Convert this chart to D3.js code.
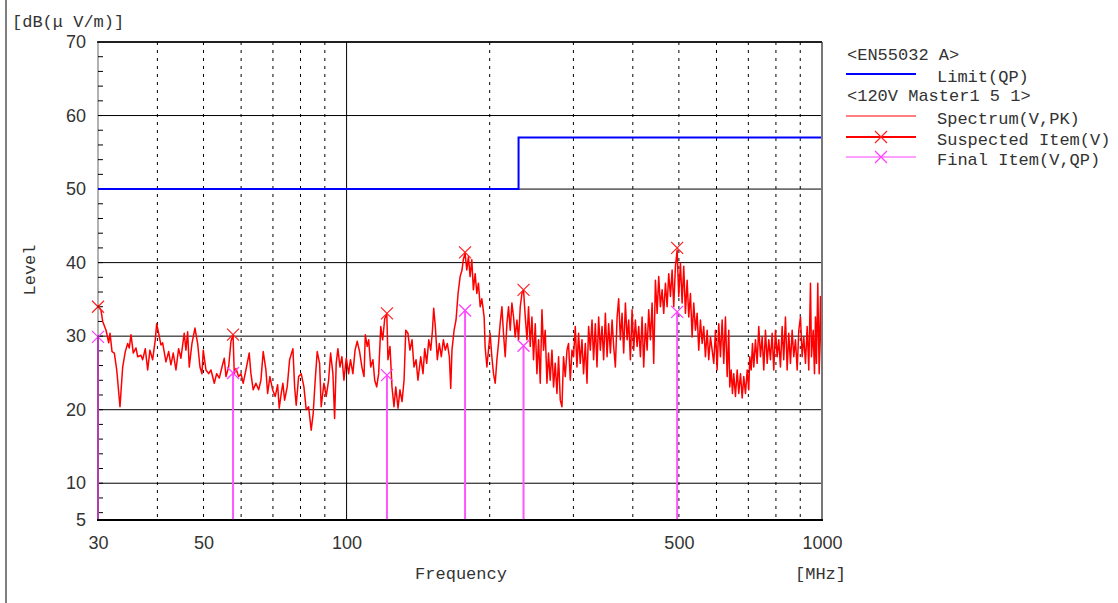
<!DOCTYPE html>
<html>
<head>
<meta charset="utf-8">
<script src="https://cdn.jsdelivr.net/npm/d3@7"></script>
<style>
body { margin: 0; background: #fff; }
svg text { fill: #333; }
.mono { font-family: "Liberation Mono", monospace; font-size: 17px; }
.num { font-family: "Liberation Sans", Arial, sans-serif; font-size: 18px; }
</style>
</head>
<body>
<svg id="chartSvg" width="1118" height="603"></svg>
<script>
// Spectrum (V, PK): frequency [MHz] and level [dBuV/m]
const specFreq = [
  30.0, 30.44, 30.69, 31.19, 31.60, 31.80, 32.11, 32.47, 32.85, 33.37, 33.81, 34.24, 34.64, 34.91, 35.20, 35.59,
  36.06, 36.36, 36.94, 37.25, 37.72, 38.16, 38.58, 39.09, 39.59, 39.86, 40.24, 40.69, 41.03, 41.69, 42.24, 42.71,
  43.19, 43.76, 44.33, 44.83, 45.55, 45.93, 46.31, 46.67, 47.29, 47.98, 48.61, 49.16, 49.64, 49.95, 50.61, 51.27,
  51.85, 52.69, 53.30, 53.98, 54.69, 55.30, 55.76, 56.48, 57.12, 57.7, 58.04, 58.52, 59.28, 59.95, 60.62, 61.41,
  62.40, 62.92, 63.62, 64.46, 65.31, 66.04, 66.78, 67.66, 68.22, 68.98, 69.89, 70.78, 71.61, 72.16, 72.86, 73.46,
  74.07, 75.01, 75.89, 77.11, 77.75, 78.35, 79.27, 80.27, 81.33, 82.24, 83.20, 84.25, 85.07, 85.90, 86.74, 87.75,
  88.43, 89.60, 90.60, 91.66, 92.55, 93.59, 94.36, 95.10, 95.89, 96.83, 97.77, 98.73, 99.83, 101.0, 101.9, 103.1,
  104.2, 105.3, 106.5, 107.7, 108.8, 109.5, 110.5, 111.3, 112.4, 113.6, 114.6, 115.7, 116.8, 118.0, 119.1, 120.3,
  121.5, 122.2, 123.4, 124.6, 125.8, 126.9, 128.3, 129.5, 130.8, 132.1, 133.2, 134.6, 135.9, 137.3, 138.6, 140.0,
  141.3, 143.2, 144.8, 146.0, 147.4, 148.9, 150.3, 151.5, 152.5, 153.7, 155.2, 156.7, 158.2, 159.8, 161.3, 162.9,
  164.5, 165.6, 166.6, 168.3, 169.9, 171.6, 173.3, 174.9, 176.0, 177.5, 179.0, 180.4, 181.9, 183.4, 184.8, 186.4,
  187.9, 189.4, 191.0, 192.5, 194.7, 195.6, 197.3, 198.8, 200.4, 202.1, 203.7, 205.4, 207.1, 208.7, 210.4, 212.2,
  213.8, 215.6, 217.4, 219.1, 220.9, 222.7, 224.5, 226.3, 228.2, 230.0, 231.9, 233.8, 235.6, 237.6, 239.6, 241.4,
  243.4, 245.4, 247.3, 249.4, 251.4, 253.4, 255.5, 257.6, 259.6, 261.7, 263.9, 265.9, 268.1, 270.4, 272.5, 274.7,
  277.0, 279.2, 281.5, 283.8, 286.0, 288.4, 290.8, 293.0, 295.5, 297.9, 300.2, 302.7, 305.2, 307.6, 310.1, 312.7,
  315.1, 317.8, 320.4, 322.9, 325.6, 328.3, 330.8, 333.6, 336.3, 339.0, 341.8, 344.6, 347.3, 350.2, 353.1, 355.8,
  358.8, 361.8, 364.6, 367.6, 370.7, 373.5, 376.6, 379.7, 382.7, 385.9, 389.1, 392.1, 395.3, 398.6, 401.7, 405.0,
  408.4, 411.6, 415.0, 418.4, 421.7, 425.2, 428.7, 432.0, 435.6, 439.2, 442.6, 446.3, 450.0, 453.5, 457.2, 461.0,
  464.6, 468.5, 472.3, 476.0, 480.0, 483.9, 487.7, 491.7, 495.8, 499.6, 503.8, 507.9, 511.9, 516.1, 520.4, 524.4,
  528.8, 533.1, 537.3, 541.8, 546.2, 550.5, 555.0, 559.6, 563.9, 568.6, 573.3, 577.8, 582.6, 587.4, 592.0, 596.9,
  601.8, 606.5, 611.5, 616.6, 621.4, 626.5, 631.7, 636.6, 639.7, 644.1, 648.1, 652.2, 657.6, 663.1, 668.2, 673.8,
  679.3, 684.6, 690.3, 696.0, 701.4, 704.8, 709.6, 714.1, 718.6, 724.5, 730.5, 736.2, 742.3, 748.4, 754.3, 760.5,
  766.8, 772.7, 779.1, 785.5, 791.6, 798.2, 804.8, 811.0, 817.7, 824.5, 830.9, 837.8, 844.7, 851.3, 858.3, 865.4,
  872.2, 879.4, 886.7, 893.6, 901.0, 908.4, 915.5, 923.1, 930.7, 938.0, 945.7, 950.3, 958.2, 964.3, 968.9, 973.6,
  979.8, 986.4, 992.7, 999.0, 1000.0
];
const specLevel = [
  34.2, 33.5, 32.0, 30.8, 29.1, 30.4, 27.9, 27.7, 25.4, 20.4, 25.8, 27.9, 29.0, 28.4, 30.2, 27.7,
  28.4, 27.2, 27.4, 26.8, 28.3, 25.4, 28.1, 26.8, 29.5, 31.7, 30.4, 28.8, 29.1, 26.5, 27.9, 26.1,
  27.7, 25.4, 28.3, 27.0, 30.4, 28.1, 30.6, 25.8, 29.0, 31.1, 29.0, 25.8, 24.9, 28.1, 25.4, 24.9,
  25.4, 23.6, 24.9, 24.3, 25.8, 27.0, 24.5, 25.8, 29.3, 30.2, 24.9, 25.6, 24.5, 24.9, 23.6, 25.4,
  27.7, 24.9, 22.7, 23.6, 22.7, 24.0, 27.9, 25.4, 22.2, 24.5, 22.7, 21.8, 23.4, 20.2, 22.2, 23.6,
  21.3, 23.1, 26.8, 28.3, 23.1, 20.6, 24.5, 24.9, 23.1, 20.0, 20.4, 17.2, 19.5, 24.0, 27.9, 26.3,
  20.4, 23.6, 21.8, 24.0, 27.7, 24.9, 18.8, 26.3, 28.3, 25.8, 27.2, 24.0, 27.0, 24.9, 26.8, 24.9,
  28.1, 29.3, 27.9, 25.8, 24.5, 30.2, 28.6, 29.5, 25.8, 26.8, 24.0, 23.1, 24.9, 31.3, 29.5, 32.4,
  33.0, 26.8, 28.6, 23.1, 20.4, 23.1, 20.2, 22.7, 21.1, 24.0, 30.8, 30.4, 28.1, 29.5, 25.8, 26.8,
  24.0, 27.2, 24.9, 28.3, 26.3, 29.5, 28.1, 30.6, 33.8, 31.3, 26.8, 29.0, 27.2, 29.5, 28.1, 29.0,
  27.2, 22.9, 28.1, 30.8, 32.2, 35.8, 38.1, 39.0, 40.4, 41.3, 39.0, 40.8, 38.1, 40.4, 36.3, 38.5,
  35.8, 37.2, 34.0, 35.1, 32.6, 28.6, 25.8, 28.1, 30.4, 27.2, 24.9, 23.6, 26.8, 29.0, 31.7, 34.0,
  30.4, 27.2, 31.7, 34.0, 30.8, 34.5, 32.6, 29.9, 32.2, 29.5, 34.0, 35.8, 36.3, 32.6, 29.5, 34.0,
  28.6, 32.6, 26.8, 31.7, 24.9, 29.5, 23.6, 33.6, 28.1, 30.8, 23.6, 27.7, 24.0, 28.1, 23.1, 26.3,
  22.2, 27.2, 21.3, 20.4, 27.2, 24.5, 28.1, 29.0, 24.0, 28.1, 27.2, 31.3, 25.8, 30.4, 26.3, 29.5,
  24.9, 29.0, 23.6, 31.3, 28.1, 32.2, 26.8, 31.7, 25.8, 32.6, 28.1, 31.3, 26.8, 33.1, 27.2, 31.7,
  27.7, 32.2, 28.6, 25.8, 32.6, 35.1, 29.5, 33.1, 27.7, 34.5, 29.5, 32.2, 26.8, 33.6, 28.1, 32.2,
  28.6, 31.3, 27.2, 32.6, 25.8, 31.7, 28.1, 33.6, 29.5, 34.5, 26.3, 37.6, 33.1, 38.1, 34.0, 36.3,
  33.1, 37.2, 34.0, 38.5, 35.4, 39.0, 34.0, 39.5, 41.7, 35.4, 39.9, 34.5, 39.5, 33.1, 37.6, 32.6,
  35.8, 29.9, 34.5, 30.8, 33.1, 28.1, 32.2, 29.0, 31.3, 27.2, 30.8, 26.8, 29.9, 28.1, 26.3, 30.8,
  25.4, 31.7, 27.2, 32.2, 26.3, 32.6, 24.5, 30.8, 23.1, 25.4, 22.2, 24.9, 21.8, 25.4, 22.2, 24.9,
  21.6, 24.5, 22.2, 25.4, 22.7, 27.2, 25.4, 29.0, 25.8, 29.5, 26.3, 31.3, 27.2, 29.9, 25.4, 30.8,
  26.3, 29.5, 26.8, 30.4, 25.4, 30.8, 27.2, 29.5, 25.8, 31.3, 26.8, 32.6, 25.4, 30.4, 26.3, 30.8,
  27.2, 29.5, 25.4, 30.8, 32.6, 27.2, 29.9, 26.3, 31.3, 25.4, 37.2, 27.2, 30.8, 24.9, 32.6, 26.3,
  37.2, 24.9, 35.4, 25.4, 36.3
];

// Limit (QP), EN55032 class A
const limitFreq = [30, 230, 1000];
const limitLevel = [50, 57, 57];

// Suspected items (V) and final items (V, QP)
const itemFreq = [30, 57.7, 121.6, 177.5, 235.6, 495.8];
const suspLevel = [34.0, 30.2, 33.1, 41.4, 36.3, 42.0];
const finalLevel = [29.9, 25.0, 24.7, 33.5, 28.7, 33.3];

// Axis ticks
const yTicks = [5, 10, 20, 30, 40, 50, 60, 70];
const yGrid = [10, 20, 30, 40, 50, 60, 70];
const xTicks = [30, 50, 100, 500, 1000];
const xDashed = [40, 50, 60, 70, 80, 90, 200, 300, 400, 500, 600, 700, 800, 900];

const svg = d3.select("#chartSvg");

const x = d3.scaleLog().domain([30, 1000]).range([98, 822]);
const y = d3.scaleLinear().domain([5, 70]).range([520, 42]);

// page frame line at the left
svg.append("line")
    .attr("x1", 6).attr("x2", 6).attr("y1", 0).attr("y2", 603)
    .attr("stroke", "#555").attr("stroke-width", 1.5);

// grid
const grid = svg.append("g");
grid.selectAll(".hgrid")
    .data(yGrid)
    .enter()
    .append("line")
    .attr("x1", x(30)).attr("x2", x(1000))
    .attr("y1", d => y(d)).attr("y2", d => y(d))
    .attr("stroke", "#000").attr("stroke-width", 1);

grid.selectAll(".vgrid")
    .data(xDashed)
    .enter()
    .append("line")
    .attr("x1", d => x(d)).attr("x2", d => x(d))
    .attr("y1", y(70)).attr("y2", y(5))
    .attr("stroke", "#000").attr("stroke-width", 1)
    .attr("stroke-dasharray", "3,5");

grid.append("line")
    .attr("x1", x(100)).attr("x2", x(100))
    .attr("y1", y(70)).attr("y2", y(5))
    .attr("stroke", "#000").attr("stroke-width", 1);

// minor ticks on the left axis every 2 dB
grid.selectAll(".ytick")
    .data(d3.range(6, 70, 2))
    .enter()
    .append("line")
    .attr("x1", x(30)).attr("x2", x(30) + 5)
    .attr("y1", d => y(d)).attr("y2", d => y(d))
    .attr("stroke", "#000").attr("stroke-width", 1);

// limit line
const limitData = limitFreq.map((f, i) => [f, limitLevel[i]]);
svg.append("path")
    .datum(limitData)
    .attr("fill", "none")
    .attr("stroke", "#0000ff")
    .attr("stroke-width", 2)
    .attr("d", d3.line().x(d => x(d[0])).y(d => y(d[1])).curve(d3.curveStepAfter));

// spectrum
const specData = specFreq.map((f, i) => [f, specLevel[i]]);
svg.append("path")
    .datum(specData)
    .attr("fill", "none")
    .attr("stroke", "#ff0000")
    .attr("stroke-width", 1.5)
    .attr("stroke-linejoin", "round")
    .attr("d", d3.line().x(d => x(d[0])).y(d => y(d[1])));

// final item stems
svg.selectAll(".stem")
    .data(itemFreq.map((f, i) => [f, finalLevel[i]]))
    .enter()
    .append("line")
    .attr("x1", d => x(d[0])).attr("x2", d => x(d[0]))
    .attr("y1", d => y(d[1])).attr("y2", y(5))
    .attr("stroke", "#ff55ff").attr("stroke-width", 2);

// X markers
function cross(g, cx, cy, color, w) {
    const s = 6;
    g.append("path")
        .attr("d", `M${cx - s},${cy - s}L${cx + s},${cy + s}M${cx - s},${cy + s}L${cx + s},${cy - s}`)
        .attr("stroke", color).attr("stroke-width", w).attr("fill", "none");
}
const marks = svg.append("g");
itemFreq.forEach((f, i) => {
    cross(marks, x(f), y(suspLevel[i]), "#ff2020", 1.2);
    cross(marks, x(f), y(finalLevel[i]), "#ff40ff", 1.3);
});

// plot frame
svg.append("line").attr("x1", x(30)).attr("x2", x(30)).attr("y1", y(70)).attr("y2", y(5))
    .attr("stroke", "#000").attr("stroke-width", 1).attr("opacity", 0.6);
svg.append("line").attr("x1", x(1000)).attr("x2", x(1000)).attr("y1", y(70)).attr("y2", y(5))
    .attr("stroke", "#777").attr("stroke-width", 2);
svg.append("line").attr("x1", x(30) - 1).attr("x2", x(1000) + 1).attr("y1", y(5)).attr("y2", y(5))
    .attr("stroke", "#000").attr("stroke-width", 2);
svg.append("line").attr("x1", x(30) - 1).attr("x2", x(1000)).attr("y1", y(70)).attr("y2", y(70))
    .attr("stroke", "#000").attr("stroke-width", 1.5);

// axes labels
const yAxis = svg.append("g")
    .attr("class", "num")
    .attr("transform", `translate(${x(30)},0)`)
    .call(d3.axisLeft(y).tickValues(yTicks).tickSize(0).tickPadding(12));
yAxis.select(".domain").remove();
yAxis.selectAll("text").attr("class", "num").attr("fill", "#333");

const xAxis = svg.append("g")
    .attr("transform", `translate(0,${y(5)})`)
    .call(d3.axisBottom(x).tickValues(xTicks).tickFormat(d3.format("d")).tickSize(0).tickPadding(16));
xAxis.select(".domain").remove();
xAxis.selectAll("text").attr("class", "num").attr("fill", "#333");

svg.append("text").attr("class", "mono").attr("x", 12).attr("y", 27).text("[dB(\u03bc V/m)]");
svg.append("text").attr("class", "mono")
    .attr("transform", "translate(35,270) rotate(-90)")
    .attr("text-anchor", "middle").text("Level");
svg.append("text").attr("class", "mono").attr("x", 461).attr("y", 579)
    .attr("text-anchor", "middle").text("Frequency");
svg.append("text").attr("class", "mono").attr("x", 846).attr("y", 579)
    .attr("text-anchor", "end").text("[MHz]");

// legend
const lg = svg.append("g");
lg.append("text").attr("class", "mono").attr("x", 847).attr("y", 60).text("<EN55032 A>");
lg.append("line").attr("x1", 846).attr("x2", 916).attr("y1", 74).attr("y2", 74)
    .attr("stroke", "#0000ff").attr("stroke-width", 2);
lg.append("text").attr("class", "mono").attr("x", 937).attr("y", 82).text("Limit(QP)");
lg.append("text").attr("class", "mono").attr("x", 847).attr("y", 101).text("<120V Master1 5 1>");
lg.append("line").attr("x1", 846).attr("x2", 916).attr("y1", 116).attr("y2", 116)
    .attr("stroke", "#ff0000").attr("stroke-width", 1);
lg.append("text").attr("class", "mono").attr("x", 937).attr("y", 124).text("Spectrum(V,PK)");
lg.append("line").attr("x1", 846).attr("x2", 916).attr("y1", 137).attr("y2", 137)
    .attr("stroke", "#ff0000").attr("stroke-width", 2);
cross(lg, 881, 137, "#ff2020", 1.2);
lg.append("text").attr("class", "mono").attr("x", 937).attr("y", 145).text("Suspected Item(V)");
lg.append("line").attr("x1", 846).attr("x2", 916).attr("y1", 157).attr("y2", 157)
    .attr("stroke", "#ff40ff").attr("stroke-width", 1);
cross(lg, 881, 157, "#ff40ff", 1.3);
lg.append("text").attr("class", "mono").attr("x", 937).attr("y", 165).text("Final Item(V,QP)");
</script>
</body>
</html>
